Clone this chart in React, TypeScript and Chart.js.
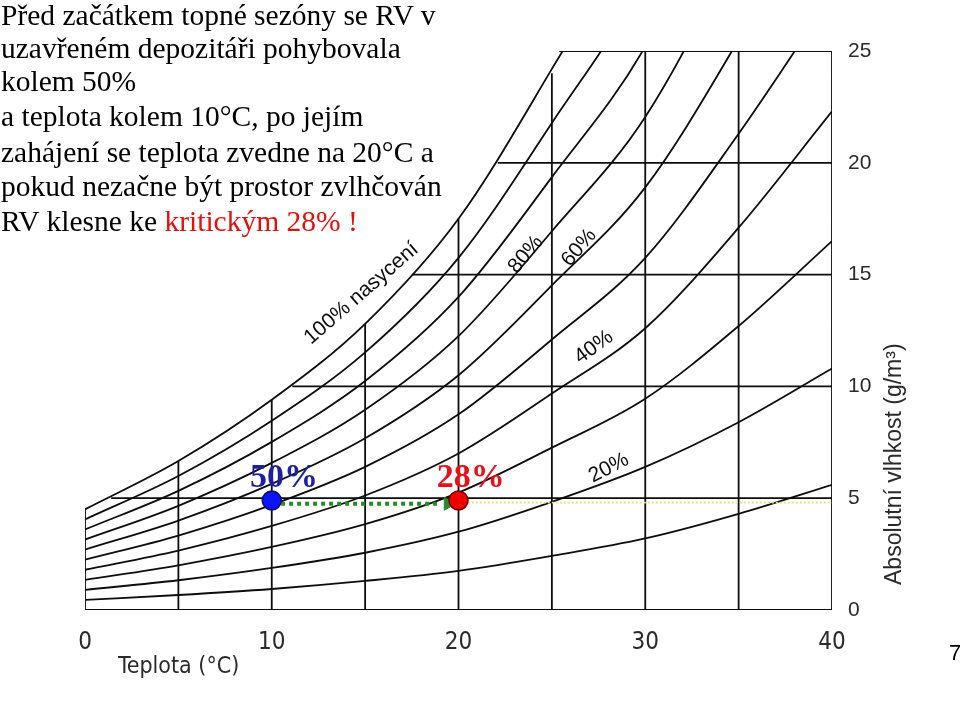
import React, { useEffect, useRef } from 'react';
import { Chart, registerables } from 'chart.js';

Chart.register(...registerables);

// ---- data ----
const temperatures = [0, 5, 10, 15, 20, 25, 30, 35, 40];
const rh10 = [0.45, 0.67, 0.94, 1.3, 1.75, 2.42, 3.2, 4.3, 5.6];
const rh20 = [0.9, 1.33, 1.88, 2.56, 3.5, 4.84, 6.4, 8.4, 10.8];
const rh30 = [1.35, 2.0, 2.82, 3.84, 5.25, 7.26, 9.45, 12.7, 16.5];
const rh40 = [1.8, 2.66, 3.76, 5.12, 7.0, 9.68, 12.6, 17.1, 22.3];
const rh50 = [2.25, 3.33, 4.7, 6.4, 8.75, 12.1, 15.75, 21.3, 27.5];
const rh60 = [2.7, 4.0, 5.64, 7.68, 10.5, 14.52, 18.9, 25.5, 33.0];
const rh70 = [3.15, 4.66, 6.58, 8.96, 12.25, 16.94, 22.05, 29.75, 38.5];
const rh80 = [3.6, 5.33, 7.52, 10.24, 14.0, 19.36, 25.2, 34.0, 44.0];
const rh90 = [4.05, 5.99, 8.46, 11.52, 15.75, 21.78, 28.35, 38.25, 49.5];
const rh100 = [4.5, 6.66, 9.4, 12.8, 17.5, 24.2, 31.5, 42.5, 55.0];
const curveNames = ['10%', '20%', '30%', '40%', '50%', '60%', '70%', '80%', '90%', '100%'];
const curveSeries = [rh10, rh20, rh30, rh40, rh50, rh60, rh70, rh80, rh90, rh100];

// grid of the diagram (only below the saturation curve)
const gridTemps = [0, 5, 10, 15, 20, 25, 30, 35, 40];
const gridTempTops = [4.5, 6.66, 9.4, 12.8, 17.5, 24.0, 25, 25, 25];
const gridHums = [0, 5, 10, 15, 20, 25];
const gridHumStarts = [0, 1.4, 11.1, 17.5, 22.1, 25.4];

const xTickValues = [0, 10, 20, 30, 40];
const yTickValues = [0, 5, 10, 15, 20, 25];

// states
const stateTemps = [10, 20];
const stateHums = [4.9, 4.9];
const stateLabels = ['50%', '28%'];
const arrowTemps = [10.5, 19.0];
const arrowHeadTemp = 19.44;
const arrowHum = 4.75;
const yellowTemps = [20.5, 40];
const yellowHum = 4.8;

// curve labels
const curveLabelTexts = ['100% nasycení', '80%', '60%', '40%', '20%'];
const curveLabelTemps = [14.8, 23.6, 26.45, 27.25, 28.05];
const curveLabelHums = [14.15, 15.9, 16.2, 11.75, 6.35];
const curveLabelAngles = [-41, -50, -50, -36, -27];

const introLines = [
  'Před začátkem topné sezóny se RV v',
  'uzavřeném depozitáři pohybovala',
  'kolem 50%',
  'a teplota kolem 10°C, po jejím',
  'zahájení se teplota zvedne na 20°C a',
  'pokud nezačne být prostor zvlhčován',
  'RV klesne ke ',
];
const introHighlight = 'kritickým 28% !';
const introBaselines = [26, 59, 92, 127, 163, 197, 232];

const xTitle = 'Teplota (°C)';
const yTitle = 'Absolutní vlhkost (g/m³)';
const pageNumber = '7';

const INK = '#0d0d0d';
const LW = 1.8;
const NARROW = '"Liberation Sans Narrow", "DejaVu Sans Condensed", "Arial Narrow", sans-serif';

const annotPlugin = {
  id: 'annot',
  afterDatasetsDraw(chart: any) {
    const { ctx, chartArea } = chart;
    const x = chart.scales.x;
    const y = chart.scales.y;
    ctx.save();
    // curve labels
    curveLabelTexts.forEach((txt, i) => {
      const px = x.getPixelForValue(curveLabelTemps[i]);
      const py = y.getPixelForValue(curveLabelHums[i]);
      ctx.save();
      ctx.translate(px, py);
      ctx.rotate((curveLabelAngles[i] * Math.PI) / 180);
      ctx.font = '21px "Liberation Sans", Arial, sans-serif';
      ctx.fillStyle = INK;
      ctx.textAlign = 'center';
      ctx.textBaseline = 'middle';
      ctx.fillText(txt, 0, 0);
      ctx.restore();
    });
    // state labels
    const stateColors = ['#1e1ea0', '#e5121b'];
    stateLabels.forEach((txt, i) => {
      const px = x.getPixelForValue(stateTemps[i] + 0.65);
      const py = y.getPixelForValue(stateHums[i]) - 13;
      ctx.font = 'bold 34px "Liberation Serif", "Times New Roman", serif';
      ctx.fillStyle = stateColors[i];
      ctx.textAlign = 'center';
      ctx.textBaseline = 'alphabetic';
      ctx.fillText(txt, px, py);
    });
    // axis titles
    ctx.fillStyle = '#2a2a2a';
    ctx.font = '23px ' + NARROW;
    ctx.textAlign = 'left';
    ctx.textBaseline = 'middle';
    ctx.fillText(xTitle, chartArea.left + 33, chartArea.bottom + 57);
    ctx.save();
    ctx.translate(chartArea.right + 63, chartArea.bottom - 25);
    ctx.rotate(-Math.PI / 2);
    ctx.font = '23px "Liberation Sans", Arial, sans-serif';
    ctx.textAlign = 'left';
    ctx.textBaseline = 'middle';
    ctx.fillText(yTitle, 0, 0);
    ctx.restore();
    ctx.restore();
  },
};

export default function App() {
  const ref = useRef<HTMLCanvasElement | null>(null);

  useEffect(() => {
    if (!ref.current) return;

    const curveDatasets = curveSeries.map((vals, i) => ({
      label: curveNames[i],
      data: temperatures.map((t, j) => ({ x: t, y: vals[j] })),
      borderColor: INK,
      borderWidth: LW,
      pointRadius: 0,
      fill: false,
      cubicInterpolationMode: 'monotone' as const,
      order: 5,
    }));

    const gridData: any[] = [];
    gridTemps.forEach((t, i) => {
      gridData.push({ x: t, y: 0 }, { x: t, y: gridTempTops[i] }, { x: t, y: null });
    });
    gridHums.forEach((h, i) => {
      gridData.push({ x: gridHumStarts[i], y: h }, { x: 40, y: h }, { x: 40, y: null });
    });

    const chart = new Chart(ref.current, {
      type: 'line',
      data: {
        datasets: [
          {
            label: 'states',
            data: stateTemps.map((t, i) => ({ x: t, y: stateHums[i] })),
            showLine: false,
            pointRadius: 9.5,
            pointBackgroundColor: ['#0a14ff', '#f00000'],
            pointBorderColor: ['#101060', '#700000'],
            pointBorderWidth: 1.5,
            order: 0,
          },
          {
            label: 'arrow',
            data: arrowTemps.map((t) => ({ x: t, y: arrowHum })),
            borderColor: '#2a8a2a',
            borderWidth: 4,
            borderDash: [4, 4],
            borderCapStyle: 'butt',
            pointRadius: 0,
            order: 1,
          },
          {
            label: 'arrowhead',
            data: [{ x: arrowHeadTemp, y: arrowHum }],
            showLine: false,
            pointStyle: 'triangle',
            rotation: 90,
            pointRadius: 7.5,
            pointBackgroundColor: '#2a8a2a',
            pointBorderColor: '#2a8a2a',
            pointBorderWidth: 1,
            order: 1,
          },
          {
            label: 'yellow',
            data: yellowTemps.map((t) => ({ x: t, y: yellowHum })),
            borderColor: '#ece36a',
            borderWidth: 1.6,
            borderDash: [2, 2],
            pointRadius: 0,
            order: 2,
          },
          {
            label: 'grid',
            data: gridData,
            borderColor: INK,
            borderWidth: LW,
            pointRadius: 0,
            spanGaps: false,
            tension: 0,
            order: 4,
          },
          ...curveDatasets,
        ] as any,
      },
      options: {
        responsive: false,
        animation: false,
        events: [],
        layout: { padding: { left: 85, top: 51, right: 0, bottom: 0 } },
        plugins: {
          legend: { display: false },
          tooltip: { enabled: false },
          title: { display: false },
        },
        scales: {
          x: {
            type: 'linear',
            position: 'bottom',
            min: 0,
            max: 40,
            grid: { display: false, drawTicks: false },
            border: { display: false },
            afterBuildTicks: (axis: any) => {
              axis.ticks = xTickValues.map((v) => ({ value: v }));
            },
            afterFit: (axis: any) => {
              axis.height = 92;
            },
            ticks: {
              autoSkip: false,
              maxRotation: 0,
              padding: 18,
              color: '#2a2a2a',
              font: { family: NARROW, size: 24 },
            },
          },
          y: {
            type: 'linear',
            position: 'right',
            min: 0,
            max: 25,
            grid: { display: false, drawTicks: false },
            border: { display: false },
            afterBuildTicks: (axis: any) => {
              axis.ticks = yTickValues.map((v) => ({ value: v }));
            },
            afterFit: (axis: any) => {
              axis.width = 128;
            },
            ticks: {
              padding: 16,
              color: '#2a2a2a',
              font: { family: '"Liberation Sans", Arial, sans-serif', size: 21 },
            },
          },
        },
      },
      plugins: [annotPlugin],
    } as any);

    return () => chart.destroy();
  }, []);

  const lineStyle = (i: number): React.CSSProperties => ({
    position: 'absolute',
    left: 1,
    top: introBaselines[i] - 24.7,
    fontFamily: '"Liberation Serif", "Times New Roman", serif',
    fontSize: 29.5,
    lineHeight: '29.5px',
    color: '#000',
    whiteSpace: 'nowrap',
  });

  return (
    <div
      style={{
        position: 'fixed',
        left: 0,
        top: 0,
        width: 960,
        height: 702,
        overflow: 'hidden',
        background: '#fff',
      }}
    >
      <canvas
        ref={ref}
        width={960}
        height={702}
        style={{ position: 'absolute', left: 0, top: 0, width: 960, height: 702 }}
      />
      {introLines.map((line, i) => (
        <div key={i} style={lineStyle(i)}>
          {line}
          {i === introLines.length - 1 ? <span style={{ color: '#e01010' }}>{introHighlight}</span> : null}
        </div>
      ))}
      <div
        style={{
          position: 'absolute',
          left: 949,
          top: 642,
          fontFamily: '"Liberation Sans", Arial, sans-serif',
          fontSize: 22,
          lineHeight: '22px',
          color: '#000',
        }}
      >
        {pageNumber}
      </div>
    </div>
  );
}
